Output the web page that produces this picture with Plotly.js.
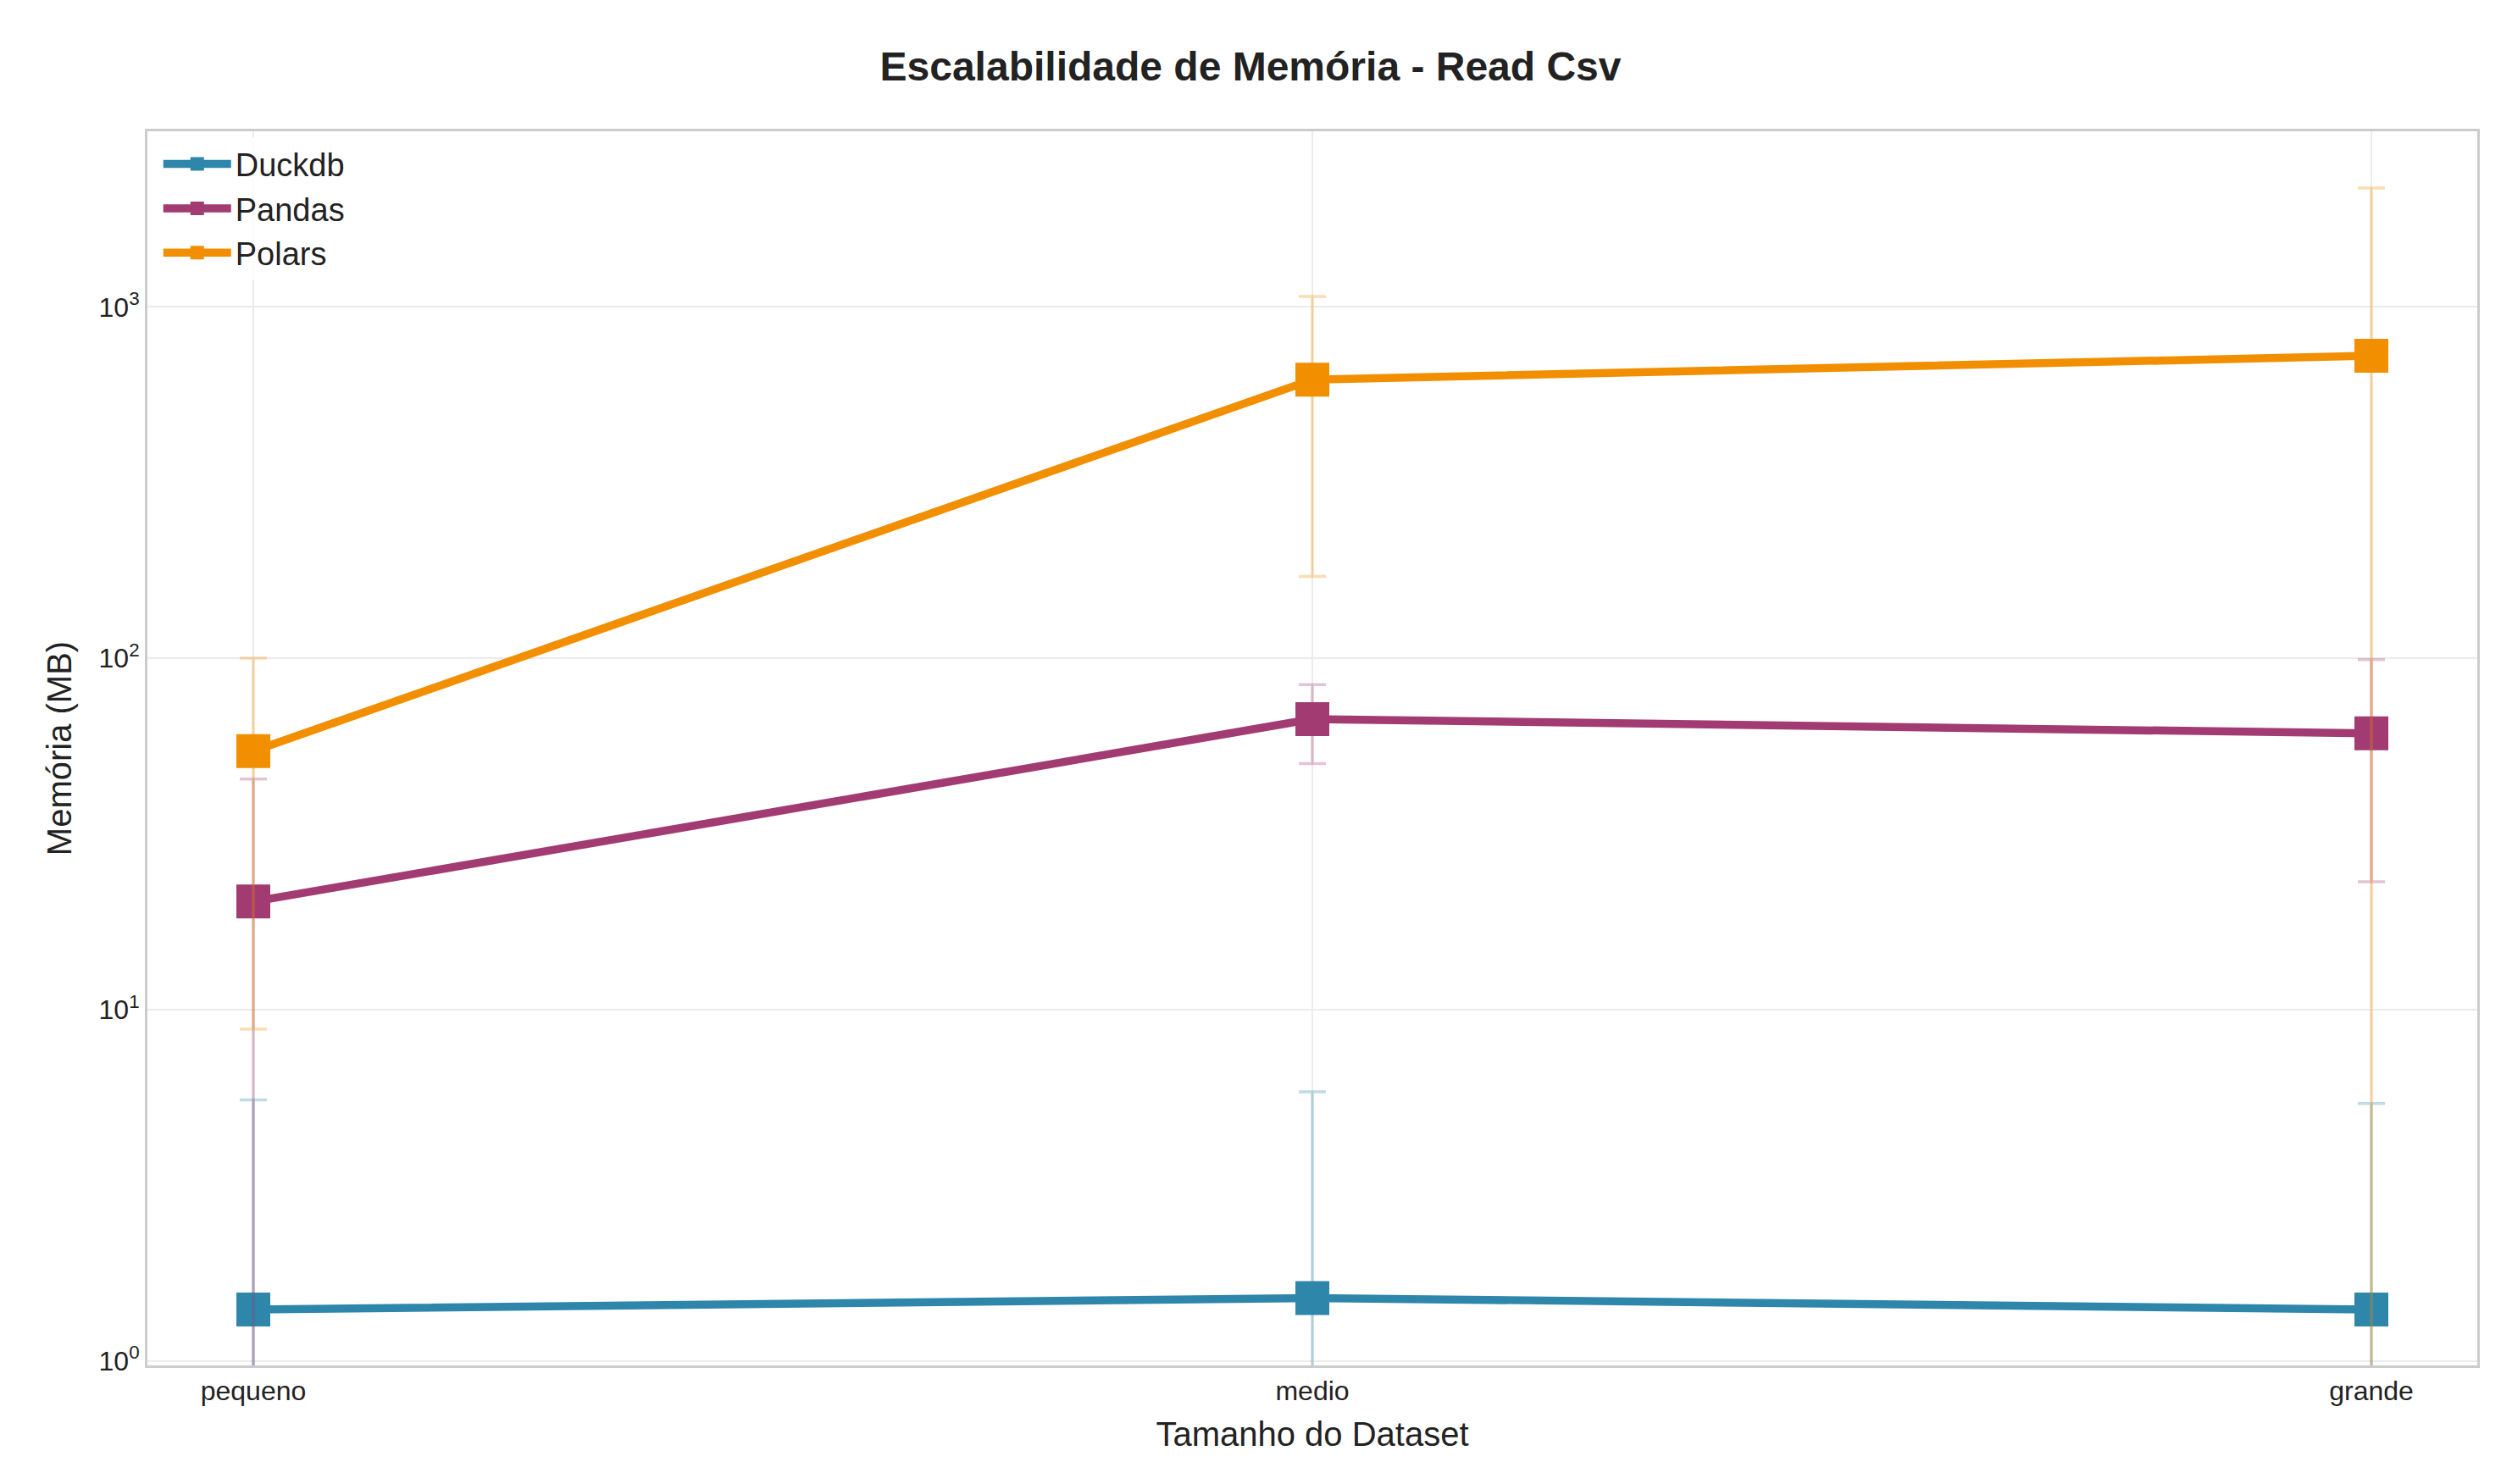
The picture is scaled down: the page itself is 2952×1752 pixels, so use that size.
<!DOCTYPE html>
<html>
<head>
<meta charset="utf-8">
<script src="https://cdn.plot.ly/plotly-3.0.1.min.js"></script>
<style>body{margin:0;background:#fff}</style>
</head>
<body>
<div id="chart" style="width:2952px;height:1752px"></div>
<script>
// dataset sizes
var sizes = ['pequeno', 'medio', 'grande'];
var xpos = [0, 1, 2];

// memory (MB) per library, with std errors
var duckdbMem = [1.40, 1.51, 1.40];
var duckdbErr = [4.13, 4.32, 4.0];
var pandasMem = [20.3, 67.1, 61.1];
var pandasErr = [25, 17, 38];
var polarsMem = [54.4, 621, 726];
var polarsErr = [45.6, 450, 1455];

var yTicks = [1, 10, 100, 1000];
var yTickText = ['10<sup>0</sup>', '10<sup>1</sup>', '10<sup>2</sup>', '10<sup>3</sup>'];

function series(name, y, err, color, errColor) {
	return {
		x: xpos, y: y, name: name,
		type: 'scatter', mode: 'lines+markers',
		line: {color: color, width: 9.5},
		marker: {symbol: 'square', size: 40, color: color},
		error_y: {type: 'data', array: err, arrayminus: err, visible: true,
			color: errColor, thickness: 3.5, width: 16}
	};
}

var data = [
	series('Duckdb', duckdbMem, duckdbErr, '#2E86AB', 'rgba(46,134,171,0.3)'),
	series('Pandas', pandasMem, pandasErr, '#A23B72', 'rgba(162,59,114,0.3)'),
	series('Polars', polarsMem, polarsErr, '#F18F01', 'rgba(241,143,1,0.3)')
];

var layout = {
	width: 2952, height: 1752,
	paper_bgcolor: '#fff', plot_bgcolor: '#fff',
	font: {family: 'Arial, Liberation Sans, sans-serif', color: '#222', size: 32},
	margin: {l: 174, r: 28, t: 155, b: 140},
	title: {text: '<b>Escalabilidade de Memória - Read Csv</b>', font: {size: 48}, x: 0.5, y: 0.965, yanchor: 'top'},
	xaxis: {
		range: [-0.1, 2.1], tickvals: xpos, ticktext: sizes,
		showgrid: true, gridcolor: '#ebebeb', gridwidth: 2,
		showline: true, mirror: true, linecolor: '#cccccc', linewidth: 3,
		zeroline: false, ticks: '', tickfont: {size: 32},
		title: {text: 'Tamanho do Dataset', font: {size: 40}, standoff: 20}
	},
	yaxis: {
		type: 'log', range: [-0.013, 3.5],
		tickvals: yTicks, ticktext: yTickText,
		showgrid: true, gridcolor: '#ebebeb', gridwidth: 2,
		showline: true, mirror: true, linecolor: '#cccccc', linewidth: 3,
		zeroline: false, ticks: '', tickfont: {size: 32},
		title: {text: 'Memória (MB)', font: {size: 40}, standoff: 20}
	},
	legend: {x: 0.005, y: 0.995, xanchor: 'left', yanchor: 'top',
		font: {size: 38}, bgcolor: 'rgba(255,255,255,0.8)', itemwidth: 80,
		tracegroupgap: 10},
	showlegend: true
};

Plotly.newPlot('chart', data, layout, {displayModeBar: false});
</script>
</body>
</html>
